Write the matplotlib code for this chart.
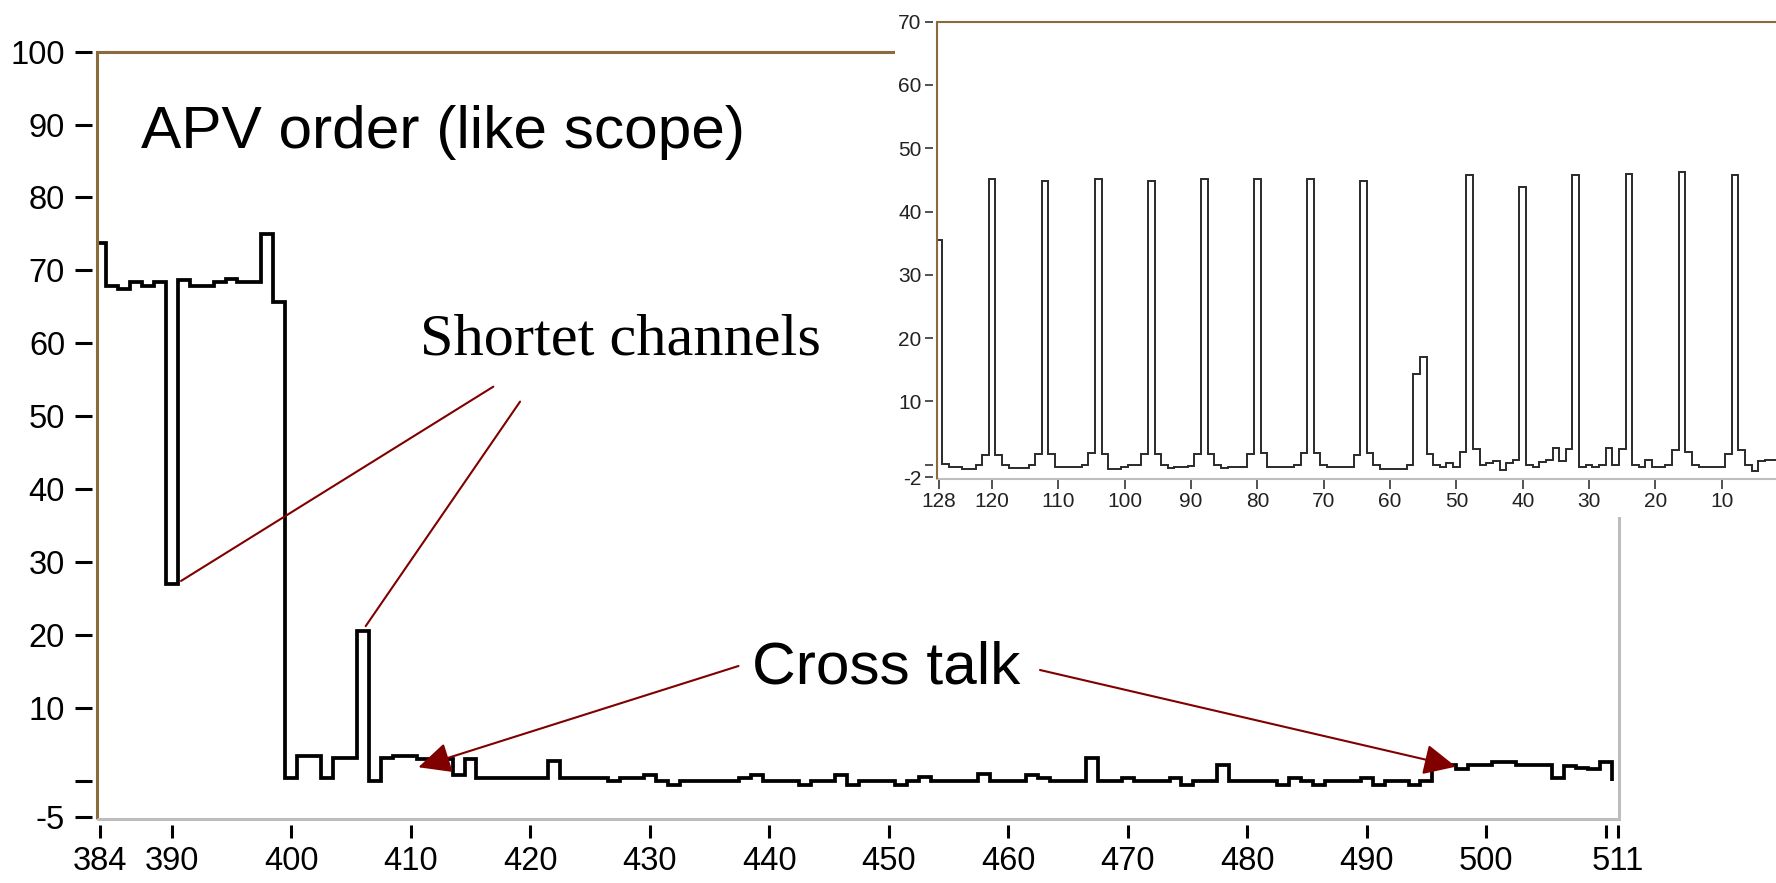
import numpy as np
import matplotlib
matplotlib.use("Agg")
import matplotlib.pyplot as plt
from matplotlib.patches import Rectangle

# ---------------------------------------------------------------
# Pedestal-subtracted signal, APV readout order (channels 384..510)
# ---------------------------------------------------------------
main_channels = np.arange(384, 511)
main_values = [
    73.7, 67.8, 67.4, 68.4, 67.9, 68.4, 27.0, 68.7, 67.9, 67.9,   # 384-393
    68.4, 68.8, 68.4, 68.4, 75.0, 65.7, 0.4, 3.4, 3.4, 0.4,       # 394-403
    3.1, 3.1, 20.5, 0.0, 3.1, 3.4, 3.4, 3.0, 3.0, 3.0,            # 404-413
    0.8, 3.0, 0.4, 0.4, 0.4, 0.4, 0.4, 0.4, 2.7, 0.4,             # 414-423
    0.4, 0.4, 0.4, -0.1, 0.4, 0.4, 0.8, -0.1, -0.55, -0.1,        # 424-433
    -0.1, -0.1, -0.1, -0.1, 0.4, 0.8, -0.1, -0.1, -0.1, -0.55,    # 434-443
    -0.1, -0.1, 0.8, -0.55, -0.1, -0.1, -0.1, -0.55, -0.1, 0.45,  # 444-453
    -0.1, -0.1, -0.1, -0.1, 0.9, -0.1, -0.1, -0.1, 0.8, 0.4,      # 454-463
    -0.1, -0.1, -0.1, 3.1, -0.1, -0.1, 0.4, -0.1, -0.1, -0.1,     # 464-473
    0.4, -0.55, -0.1, -0.1, 2.2, -0.1, -0.1, -0.1, -0.1, -0.55,   # 474-483
    0.35, -0.1, -0.55, -0.1, -0.1, -0.1, 0.35, -0.55, -0.1, -0.1, # 484-493
    -0.55, -0.1, 2.0, 2.2, 1.6, 2.2, 2.2, 2.6, 2.6, 2.2,          # 494-503
    2.2, 2.2, 0.35, 2.0, 1.7, 1.6, 2.6,                           # 504-510
]

main_yticks = [-5, 0, 10, 20, 30, 40, 50, 60, 70, 80, 90, 100]
main_yticklabels = ["-5", "", "10", "20", "30", "40", "50", "60", "70", "80", "90", "100"]
main_xticks = [384, 390, 400, 410, 420, 430, 440, 450, 460, 470, 480, 490, 500, 510, 511]
main_xticklabels = ["384", "390", "400", "410", "420", "430", "440", "450", "460",
                    "470", "480", "490", "500", "", "511"]

# ---------------------------------------------------------------
# Same chip, physical strip order (channels 128 down to 2)
# ---------------------------------------------------------------
inset_channels = np.arange(128, 1, -1)
inset_values = [
    35.5, 0.1, -0.3, -0.3, -0.65, -0.65, 0.0, 1.5, 45.1, 1.5,     # 128-119
    0.0, -0.6, -0.6, -0.6, -0.1, 1.7, 44.8, 1.7, -0.3, -0.3,      # 118-109
    -0.3, -0.3, 0.0, 1.9, 45.1, 1.7, -0.7, -0.7, -0.4, -0.1,      # 108-99
    -0.1, 1.7, 44.8, 1.7, 0.0, -0.6, -0.3, -0.4, -0.2, 1.7,       # 98-89
    45.1, 1.7, 0.0, -0.6, -0.3, -0.3, -0.3, 1.7, 45.1, 1.9,       # 88-79
    -0.4, -0.4, -0.4, -0.4, 0.0, 1.9, 45.1, 1.9, 0.0, -0.4,       # 78-69
    -0.4, -0.4, -0.4, 1.6, 44.8, 1.9, 0.0, -0.65, -0.65, -0.65,   # 68-59
    -0.65, -0.1, 14.3, 17.0, 1.7, 0.0, -0.4, 0.3, -0.4, 2.0,      # 58-49
    45.8, 2.4, 0.0, 0.3, 0.5, -0.8, 0.3, 0.8, 43.9, 0.0,          # 48-39
    -0.4, 0.4, 0.8, 2.7, 0.5, 2.4, 45.8, -0.3, -0.1, -0.4,        # 38-29
    0.0, 2.7, 0.0, 2.4, 46.0, 0.0, -0.4, 0.8, -0.4, -0.4,         # 28-19
    -0.1, 2.3, 46.3, 2.0, 0.0, -0.4, -0.4, -0.4, -0.4, 1.7,       # 18-9
    45.8, 2.3, 0.0, -1.0, 0.5, 0.7, 0.8,                          # 8-2
]

inset_yticks = [-2, 0, 10, 20, 30, 40, 50, 60, 70]
inset_yticklabels = ["-2", "", "10", "20", "30", "40", "50", "60", "70"]
inset_xticks = [128, 120, 110, 100, 90, 80, 70, 60, 50, 40, 30, 20, 10]
inset_xticklabels = [str(t) for t in inset_xticks]

# ---------------------------------------------------------------
BROWN = "#8a6c3c"
GRAY = "#bdbdbd"
DARKRED = "#800000"
W, H = 1776, 883
PT = 0.72  # points per pixel at dpi=100

fig = plt.figure(figsize=(W / 100, H / 100), dpi=100)
fig.patch.set_facecolor("white")


def px_rect(left, top, right, bottom):
    return [left / W, (H - bottom) / H, (right - left) / W, (bottom - top) / H]


tick_font = dict(family=["Liberation Sans", "DejaVu Sans"])

# ---------------- main panel ----------------
ax = fig.add_axes(px_rect(96.7, 51.7, 1619.3, 819.3))
ax.set_zorder(0)
edges = np.append(main_channels - 0.5, main_channels[-1] + 0.5)
ax.stairs(main_values, edges, baseline=0, color="black", lw=2.7,
          joinstyle="miter", zorder=3)
ax.set_xlim(383.72, 511.14)
ax.set_ylim(-5.3, 100)

for side in ("left", "bottom"):
    ax.spines[side].set_visible(False)
ax.spines["left"].set_position(("outward", 4.7 * PT))
ax.spines["bottom"].set_position(("outward", 5.7 * PT))
ax.spines["top"].set_color(BROWN)
ax.spines["top"].set_linewidth(2.2)
ax.spines["right"].set_color(GRAY)
ax.spines["right"].set_linewidth(2.2)
ax.plot([0, 0], [0, 1], transform=ax.transAxes, color=BROWN, lw=2.2,
        clip_on=False, solid_capstyle="butt", zorder=4)
ax.plot([0, 1], [0, 0], transform=ax.transAxes, color=GRAY, lw=2.2,
        clip_on=False, solid_capstyle="butt", zorder=4)

ax.set_yticks(main_yticks)
ax.set_yticklabels(main_yticklabels, fontsize=23.5, **tick_font)
ax.set_xticks(main_xticks)
ax.set_xticklabels(main_xticklabels, fontsize=23.5, **tick_font)
ax.tick_params(axis="y", direction="out", length=17 * PT, width=2.2,
               pad=10 * PT, colors="black")
ax.tick_params(axis="x", direction="out", length=13 * PT, width=2.2,
               pad=8 * PT, colors="black")

# headings and annotations
ax.text(0.0291, 0.8742, "APV order (like scope)", transform=ax.transAxes,
        fontsize=43.5, family=["Liberation Sans", "DejaVu Sans"],
        ha="left", va="baseline")
ax.text(0.2123, 0.6049, "Shortet channels", transform=ax.transAxes,
        fontsize=43.5, family=["Liberation Serif", "DejaVu Serif"],
        ha="left", va="baseline")
ax.text(0.4304, 0.1765, "Cross talk", transform=ax.transAxes,
        fontsize=43.5, family=["Liberation Sans", "DejaVu Sans"],
        ha="left", va="baseline")

line_props = dict(arrowstyle="-", color=DARKRED, lw=1.5, shrinkA=0, shrinkB=0)
ax.annotate("", xy=(390.78, 27.4), xytext=(416.91, 54.05), arrowprops=line_props)
ax.annotate("", xy=(406.23, 21.2), xytext=(419.15, 52.0), arrowprops=line_props)
arrow_props = dict(arrowstyle="-|>,head_length=2.0,head_width=0.95",
                   mutation_scale=10, color=DARKRED, lw=1.5,
                   shrinkA=0, shrinkB=0)
ax.annotate("", xy=(410.64, 1.84), xytext=(437.43, 15.73), arrowprops=arrow_props)
ax.annotate("", xy=(497.47, 1.92), xytext=(462.66, 15.18), arrowprops=arrow_props)

# ---------------- inset panel ----------------
fig.add_artist(Rectangle((895 / W, (H - 516.7) / H), (W - 895) / W, 516.7 / H,
                         transform=fig.transFigure, facecolor="white",
                         edgecolor="none", zorder=1))

ins = fig.add_axes(px_rect(937.3, 21.7, 1778.1, 479.0))
ins.set_zorder(2)
ch_up = inset_channels[::-1]
vals_up = inset_values[::-1]
iedges = np.append(ch_up - 0.5, ch_up[-1] + 0.5)
ins.stairs(vals_up, iedges, baseline=None, color="#2a2a2a", lw=1.4,
           joinstyle="miter", zorder=3)
ins.set_xlim(128.26, 1.5)
ins.set_ylim(-2.27, 70)

ins.spines["left"].set_visible(False)
ins.spines["left"].set_position(("outward", 4.0 * PT))
ins.spines["right"].set_visible(False)
ins.spines["top"].set_color(BROWN)
ins.spines["top"].set_linewidth(1.5)
ins.spines["bottom"].set_color(GRAY)
ins.spines["bottom"].set_linewidth(1.5)
ins.plot([0, 0], [0, 1], transform=ins.transAxes, color=BROWN, lw=1.5,
         clip_on=False, solid_capstyle="butt", zorder=4)

ins.set_yticks(inset_yticks)
ins.set_yticklabels(inset_yticklabels, fontsize=15, **tick_font)
ins.set_xticks(inset_xticks)
ins.set_xticklabels(inset_xticklabels, fontsize=15, **tick_font)
ins.tick_params(axis="y", direction="out", length=8.3 * PT, width=1.1,
                pad=3.3 * PT, colors="#222222")
ins.tick_params(axis="x", direction="out", length=10 * PT, width=1.1,
                pad=3 * PT, colors="#222222")

fig.savefig("out.png", dpi=100)
